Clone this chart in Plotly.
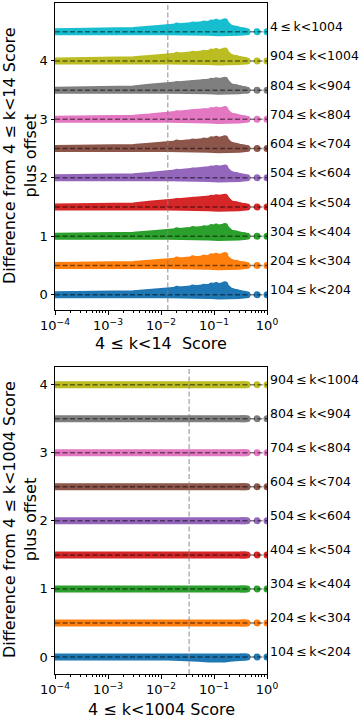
import plotly.graph_objects as go

# series labels, offsets and colours (tab10)
top_labels = ["104 ≤ k<204", "204 ≤ k<304", "304 ≤ k<404", "404 ≤ k<504", "504 ≤ k<604",
              "604 ≤ k<704", "704 ≤ k<804", "804 ≤ k<904", "904 ≤ k<1004", "4 ≤ k<1004"]
top_offsets = [0, 0.5, 1.0, 1.5, 2.0, 2.5, 3.0, 3.5, 4.0, 4.5]
bottom_labels = top_labels[:9]
bottom_offsets = [0, 0.5, 1.0, 1.5, 2.0, 2.5, 3.0, 3.5, 4.0]
colors = ["#1f77b4", "#ff7f0e", "#2ca02c", "#d62728", "#9467bd",
          "#8c564b", "#e377c2", "#7f7f7f", "#bcbd22", "#17becf"]

# score grid where the band edges were read
score_grid = [1e-4, 1e-3, 3e-3, 6e-3, 0.0134, 0.025, 0.05, 0.08, 0.12, 0.16, 0.2, 0.3, 0.4]

# top panel: upper / lower edge of the point cloud (difference, before offset)
top_upper = [
    [0, 0.005, 0.02, 0.04, 0.07, 0.09, 0.11, 0.13, 0.14, 0.15, 0.06, 0.03, 0.01],
    [0, 0.005, 0.02, 0.04, 0.07, 0.09, 0.11, 0.12, 0.13, 0.14, 0.05, 0.03, 0.01],
    [0, 0.005, 0.02, 0.04, 0.07, 0.09, 0.11, 0.13, 0.14, 0.15, 0.06, 0.03, 0.01],
    [0, 0.005, 0.02, 0.05, 0.08, 0.10, 0.12, 0.14, 0.15, 0.16, 0.06, 0.03, 0.01],
    [0, 0.005, 0.02, 0.04, 0.08, 0.10, 0.12, 0.14, 0.15, 0.15, 0.06, 0.03, 0.01],
    [0, 0.005, 0.02, 0.04, 0.07, 0.10, 0.12, 0.13, 0.15, 0.15, 0.06, 0.03, 0.01],
    [0, 0.005, 0.02, 0.04, 0.08, 0.10, 0.12, 0.13, 0.15, 0.15, 0.06, 0.03, 0.01],
    [0, 0.005, 0.02, 0.05, 0.08, 0.10, 0.12, 0.14, 0.15, 0.16, 0.06, 0.03, 0.01],
    [0, 0.005, 0.02, 0.04, 0.07, 0.09, 0.11, 0.13, 0.14, 0.15, 0.06, 0.03, 0.01],
    [0, 0.005, 0.02, 0.04, 0.07, 0.09, 0.11, 0.13, 0.14, 0.15, 0.06, 0.03, 0.01],
]
top_lower = [0, 0, 0, 0, 0, 0, 0, -0.01, -0.02, -0.02, -0.02, -0.01, 0]

# scattered points on the top edge of the cloud and the isolated points at the right
top_dot_x = [0.02, 0.03, 0.04, 0.055, 0.065, 0.075, 0.09, 0.1, 0.11, 0.125, 0.14, 0.16,
             0.19, 0.22, 0.26, 0.31, 0.37, 0.42, 0.65, 1.0]
top_dot_dev = [0.095, 0.09, 0.115, 0.105, 0.13, 0.12, 0.15, 0.13, 0.16, 0.12, 0.15, 0.17,
               0.08, 0.05, 0.04, 0.02, 0.01, 0.0, 0.0, 0.0]

# bottom panel edges
bottom_upper = [
    [0, 0, 0, 0, 0, 0, 0, 0, 0, 0, 0, 0, 0],
    [0, 0, 0, 0, 0, 0, 0, 0, 0, 0, 0, 0, 0],
    [0, 0, 0, 0, 0, 0, 0, 0, 0, 0, 0, 0, 0],
    [0, 0, 0, 0, 0, 0.005, 0.015, 0.015, 0.015, 0.01, 0.005, 0, 0],
    [0, 0, 0, 0, 0, 0.01, 0.015, 0.015, 0.015, 0.01, 0.01, 0.005, 0],
    [0, 0, 0, 0, 0, 0.01, 0.015, 0.015, 0.01, 0.01, 0.005, 0, 0],
    [0, 0, 0, 0, 0, 0, 0, 0, 0, 0, 0, 0, 0],
    [0, 0, 0, 0, 0, 0.005, 0.01, 0.01, 0.005, 0, 0, 0, 0],
    [0, 0, 0, 0, 0, 0.01, 0.015, 0.015, 0.01, 0.01, 0.005, 0, 0],
]
bottom_lower = [
    [0, 0, 0, 0, 0, 0, -0.02, -0.03, -0.035, -0.03, -0.02, -0.01, 0],
    [0, 0, 0, 0, 0, 0, -0.01, -0.015, -0.01, 0, 0, 0, 0],
    [0, 0, 0, 0, 0, 0, 0, 0, 0, 0, 0, 0, 0],
    [0, 0, 0, 0, 0, 0, 0, 0, 0, 0, 0, 0, 0],
    [0, 0, 0, 0, 0, 0, 0, 0, 0, 0, 0, 0, 0],
    [0, 0, 0, 0, 0, 0, 0, 0, 0, 0, 0, 0, 0],
    [0, 0, 0, 0, 0, 0, 0, 0, 0, 0, 0, 0, 0],
    [0, 0, 0, 0, 0, 0, 0, 0, 0, 0, 0, 0, 0],
    [0, 0, 0, 0, 0, 0, 0, 0, 0, 0, 0, 0, 0],
]
bottom_dot_x = [0.33, 0.38, 0.42, 0.65, 1.0]

top_threshold = 0.0134
bottom_threshold = 0.034

x_tickvals = [1e-4, 1e-3, 1e-2, 1e-1, 1]
x_ticktext = ["10<sup>−4</sup>", "10<sup>−3</sup>", "10<sup>−2</sup>", "10<sup>−1</sup>", "10<sup>0</sup>"]

FONT = "DejaVu Sans, Arial, sans-serif"
MS = 7
DASH = "5px,2.5px"

fig = go.Figure()


def add_band(xa, ya, offset, upper, lower, color):
    xs = score_grid + score_grid[::-1]
    ys = [offset + u for u in upper] + [offset + l for l in lower[::-1]]
    fig.add_trace(go.Scatter(x=xs, y=ys, xaxis=xa, yaxis=ya, mode="lines", fill="toself",
                             fillcolor=color, line=dict(color=color, width=MS),
                             hoverinfo="skip", showlegend=False))


for i, off in enumerate(top_offsets):
    c = colors[i]
    add_band("x", "y", off, top_upper[i], top_lower, c)
    fig.add_trace(go.Scatter(x=top_dot_x, y=[off + d for d in top_dot_dev], xaxis="x", yaxis="y",
                             mode="markers", marker=dict(color=c, size=MS, line=dict(width=0)),
                             showlegend=False))
    fig.add_trace(go.Scatter(x=[1e-4, 1], y=[off, off], xaxis="x", yaxis="y", mode="lines",
                             line=dict(color="rgba(0,0,0,0.5)", width=1.5, dash=DASH),
                             showlegend=False))

for i, off in enumerate(bottom_offsets):
    c = colors[i]
    add_band("x2", "y2", off, bottom_upper[i], bottom_lower[i], c)
    fig.add_trace(go.Scatter(x=bottom_dot_x, y=[off] * len(bottom_dot_x), xaxis="x2", yaxis="y2",
                             mode="markers", marker=dict(color=c, size=MS, line=dict(width=0)),
                             showlegend=False))
    fig.add_trace(go.Scatter(x=[1e-4, 1], y=[off, off], xaxis="x2", yaxis="y2", mode="lines",
                             line=dict(color="rgba(0,0,0,0.5)", width=1.5, dash=DASH),
                             showlegend=False))

# vertical threshold lines
fig.add_trace(go.Scatter(x=[top_threshold, top_threshold], y=[-0.26, 4.99], xaxis="x", yaxis="y",
                         mode="lines", line=dict(color="rgba(128,128,128,0.6)", width=1.5, dash=DASH),
                         showlegend=False))
fig.add_trace(go.Scatter(x=[bottom_threshold, bottom_threshold], y=[-0.25, 4.26], xaxis="x2", yaxis="y2",
                         mode="lines", line=dict(color="rgba(128,128,128,0.6)", width=1.5, dash=DASH),
                         showlegend=False))

axis_common = dict(showline=True, linecolor="black", linewidth=1, mirror=True, ticks="outside",
                   ticklen=3.5, tickcolor="black", showgrid=False, zeroline=False, automargin=False,
                   tickfont=dict(family=FONT, size=13, color="black"))
xaxis_common = dict(type="log", range=[-4, 0], tickvals=x_tickvals, ticktext=x_ticktext,
                    minor=dict(ticks="outside", ticklen=2, tickcolor="black", dtick="D1"),
                    **axis_common)

fig.update_layout(
    width=360, height=720, margin=dict(l=0, r=0, t=0, b=0),
    plot_bgcolor="white", paper_bgcolor="white", showlegend=False,
    xaxis=dict(domain=[55 / 360, 267 / 360], anchor="y", **xaxis_common),
    yaxis=dict(domain=[1 - 310 / 720, 1 - 3 / 720], anchor="x", range=[-0.26, 4.99],
               tickvals=[0, 1, 2, 3, 4], **axis_common),
    xaxis2=dict(domain=[55 / 360, 267 / 360], anchor="y2", **xaxis_common),
    yaxis2=dict(domain=[1 - 674 / 720, 1 - 367 / 720], anchor="x2", range=[-0.25, 4.26],
                tickvals=[0, 1, 2, 3, 4], **axis_common),
)

label_font = dict(family=FONT, size=12.5, color="black")
annotations = []
for lab, off in zip(top_labels, top_offsets):
    annotations.append(dict(x=1, y=off, xref="x domain", yref="y", text=lab.replace(" ", "\u2009"),
                            showarrow=False, xanchor="left", yanchor="middle", xshift=1, yshift=5,
                            font=label_font))
for lab, off in zip(bottom_labels, bottom_offsets):
    annotations.append(dict(x=1, y=off, xref="x2 domain", yref="y2", text=lab.replace(" ", "\u2009"),
                            showarrow=False, xanchor="left", yanchor="middle", xshift=1, yshift=5,
                            font=label_font))

title_font = dict(family=FONT, size=16, color="black")
annotations += [
    dict(x=161 / 360, y=1 - 343 / 720, xref="paper", yref="paper", text="4 ≤ k<14  Score",
         showarrow=False, font=title_font, xanchor="center", yanchor="middle"),
    dict(x=161 / 360, y=1 - 709 / 720, xref="paper", yref="paper", text="4 ≤ k<1004 Score",
         showarrow=False, font=title_font, xanchor="center", yanchor="middle"),
    dict(x=20 / 360, y=1 - 156 / 720, xref="paper", yref="paper",
         text="Difference from 4 ≤ k<14 Score<br>plus offset", textangle=-90,
         showarrow=False, font=title_font, xanchor="center", yanchor="middle"),
    dict(x=20 / 360, y=1 - 520 / 720, xref="paper", yref="paper",
         text="Difference from 4 ≤ k<1004 Score<br>plus offset", textangle=-90,
         showarrow=False, font=title_font, xanchor="center", yanchor="middle"),
]
fig.update_layout(annotations=annotations)

# drop the default page margin so the figure sits at the window's corner
fig.write_html("out.html", config={"displayModeBar": False},
               post_script="document.body.style.margin='0';")
